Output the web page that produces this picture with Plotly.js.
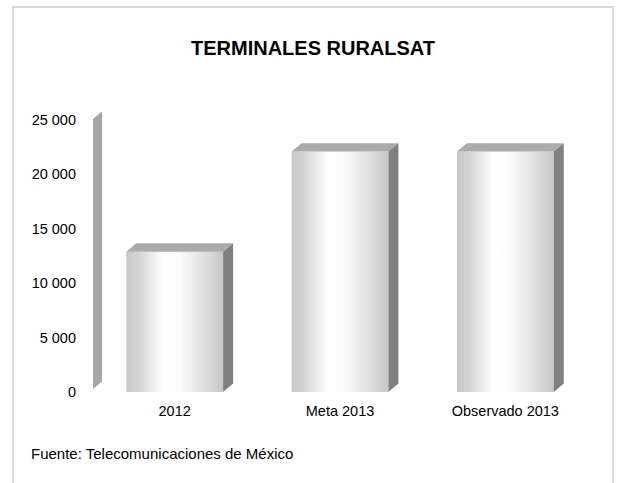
<!DOCTYPE html>
<html>
<head>
<meta charset="utf-8">
<script src="https://cdn.plot.ly/plotly-3.0.1.min.js"></script>
<style>
  html, body { margin: 0; padding: 0; background: #ffffff; }
  #chart { width: 617px; height: 483px; }
</style>
</head>
<body>
<div id="chart"></div>
<script>
// ---- data ----
var categories = ["2012", "Meta 2013", "Observado 2013"];
var terminales = [12900, 22100, 22100];
var yTicks = [0, 5000, 10000, 15000, 20000, 25000];
var chartTitle = "TERMINALES RURALSAT";
var sourceNote = "Fuente: Telecomunicaciones de México";

// ---- style / geometry ----
var FONT = "'Liberation Sans', Arial, sans-serif";
var W = 617, H = 483;
var M = {l: 92, r: 29, t: 120, b: 91};
var plotW = W - M.l - M.r, plotH = H - M.t - M.b;
var yMax = 25000;
var barW = 0.586;
var depthPxX = 10, depthPxY = 8.4;
var dx = depthPxX * 3 / plotW;          // category units
var dy = depthPxY * yMax / plotH;       // value units

var xs = categories.map(function (c, i) { return i; });

var frontSvg = '<svg xmlns="http://www.w3.org/2000/svg" width="100" height="100" viewBox="0 0 100 100" preserveAspectRatio="none">' +
  '<defs><linearGradient id="g" x1="0" y1="0" x2="1" y2="0">' +
  '<stop offset="0" stop-color="#c9c9c9"/>' +
  '<stop offset="0.12" stop-color="#d2d2d2"/>' +
  '<stop offset="0.38" stop-color="#ffffff"/>' +
  '<stop offset="0.55" stop-color="#fbfbfb"/>' +
  '<stop offset="0.78" stop-color="#e2e2e2"/>' +
  '<stop offset="1" stop-color="#c6c6c6"/>' +
  '</linearGradient></defs><rect x="0" y="0" width="100" height="100" fill="url(#g)"/></svg>';
var frontSrc = 'data:image/svg+xml;charset=utf-8,' + encodeURIComponent(frontSvg);

var images = [];
var shapes = [];

xs.forEach(function (x, i) {
  var v = terminales[i];
  var x0 = x - barW / 2, x1 = x + barW / 2;
  images.push({
    source: frontSrc, xref: 'x', yref: 'y',
    x: x0, y: v, sizex: barW, sizey: v,
    xanchor: 'left', yanchor: 'top', sizing: 'stretch', layer: 'above'
  });
  // top face
  shapes.push({
    type: 'path', xref: 'x', yref: 'y', layer: 'above',
    path: 'M' + x0 + ',' + v + ' L' + x1 + ',' + v + ' L' + (x1 + dx) + ',' + (v + dy) +
          ' L' + (x0 + dx) + ',' + (v + dy) + ' Z',
    fillcolor: '#ababab', line: {width: 0}
  });
  // side face
  shapes.push({
    type: 'path', xref: 'x', yref: 'y', layer: 'above',
    path: 'M' + x1 + ',0 L' + (x1 + dx) + ',' + dy + ' L' + (x1 + dx) + ',' + (v + dy) +
          ' L' + x1 + ',' + v + ' Z',
    fillcolor: '#808080', line: {width: 0}
  });
});

// left wall (decoration)
var wpx = 9 / plotW, wpy = 7.5 / plotH, w0 = 1 / plotW, wb = 3 / plotH;
shapes.push({
  type: 'path', xref: 'paper', yref: 'paper', layer: 'above',
  path: 'M' + w0 + ',' + wb + ' L' + (w0 + wpx) + ',' + (wb + wpy) + ' L' + (w0 + wpx) + ',' + (1 + wpy + 0.004) +
        ' L' + w0 + ',' + (1 + 0.004) + ' Z',
  fillcolor: '#a6a6a6', line: {width: 0}
});

// outer border
shapes.push({
  type: 'rect', xref: 'paper', yref: 'paper', layer: 'below',
  x0: (13 - M.l) / plotW, x1: (613 - M.l) / plotW,
  y0: (M.t + plotH - 495) / plotH, y1: (M.t + plotH - 7) / plotH,
  line: {color: '#d9d9d9', width: 2}, fillcolor: 'rgba(0,0,0,0)'
});

var data = [{
  type: 'bar',
  x: xs,
  y: terminales,
  width: barW,
  marker: {color: '#e8e8e8', line: {width: 0}},
  hoverinfo: 'skip'
}];

var layout = {
  width: W, height: H,
  margin: M,
  paper_bgcolor: '#ffffff',
  plot_bgcolor: 'rgba(0,0,0,0)',
  separators: ', ',
  showlegend: false,
  hovermode: false,
  font: {family: FONT, size: 14.5, color: '#000000'},
  title: {
    text: '<b>' + chartTitle + '</b>',
    font: {family: FONT, size: 20, color: '#000000'},
    xref: 'container', x: 313 / W, xanchor: 'center',
    yref: 'container', y: 1 - 48 / H, yanchor: 'middle'
  },
  xaxis: {
    range: [-0.5, 2.5],
    tickmode: 'array', tickvals: xs, ticktext: categories,
    showgrid: false, zeroline: false, showline: false,
    ticks: '', ticklabelstandoff: 8,
    tickfont: {family: FONT, size: 14.5, color: '#000000'},
    fixedrange: true
  },
  yaxis: {
    range: [0, yMax],
    tickmode: 'array', tickvals: yTicks,
    tickformat: ',d',
    showgrid: false, zeroline: false, showline: false,
    ticks: '', ticklabelstandoff: 15,
    tickfont: {family: FONT, size: 14.5, color: '#000000'},
    fixedrange: true
  },
  shapes: shapes,
  images: images,
  annotations: [{
    text: sourceNote, showarrow: false,
    xref: 'paper', yref: 'paper',
    x: (29 - M.l) / plotW, xanchor: 'left',
    y: (M.t + plotH - 453) / plotH, yanchor: 'middle',
    font: {family: FONT, size: 15, color: '#000000'}
  }]
};

Plotly.newPlot('chart', data, layout, {staticPlot: true, displayModeBar: false});
</script>
</body>
</html>
